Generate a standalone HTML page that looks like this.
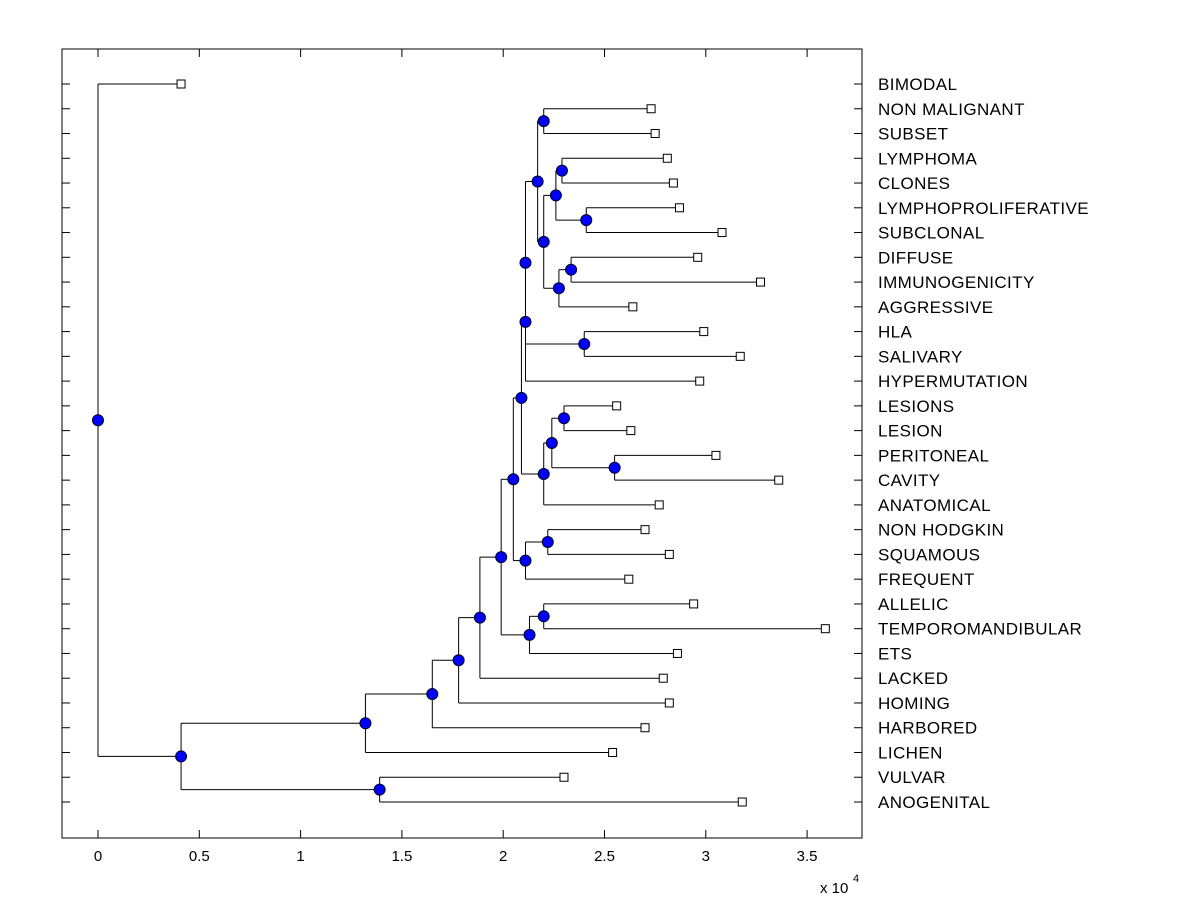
<!DOCTYPE html>
<html><head><meta charset="utf-8"><style>
html,body{margin:0;padding:0;background:#fff;}
svg{display:block;font-family:"Liberation Sans",Arial,sans-serif;}
</style></head><body>
<svg id="chart" width="1200" height="900" viewBox="0 0 1200 900" xmlns="http://www.w3.org/2000/svg">
<rect x="0" y="0" width="1200" height="900" fill="#fff"/>
</svg>
<script>
const leafLabels = ["BIMODAL","NON MALIGNANT","SUBSET","LYMPHOMA","CLONES","LYMPHOPROLIFERATIVE","SUBCLONAL","DIFFUSE","IMMUNOGENICITY","AGGRESSIVE","HLA","SALIVARY","HYPERMUTATION","LESIONS","LESION","PERITONEAL","CAVITY","ANATOMICAL","NON HODGKIN","SQUAMOUS","FREQUENT","ALLELIC","TEMPOROMANDIBULAR","ETS","LACKED","HOMING","HARBORED","LICHEN","VULVAR","ANOGENITAL"];
const leafValues = [0.41,2.73,2.75,2.81,2.84,2.87,3.08,2.96,3.27,2.64,2.99,3.17,2.97,2.56,2.63,3.05,3.36,2.77,2.70,2.82,2.62,2.94,3.59,2.86,2.79,2.82,2.70,2.54,2.30,3.18];
// internal nodes: [name, value, childA, childB] ; children are leaf indices (numbers) or node names
const nodeDefs = [
 ["N22",2.20,1,2],["N26",2.29,3,4],["N27",2.41,5,6],["N24",2.26,"N26","N27"],
 ["N28",2.335,7,8],["N25",2.275,"N28",9],["N23",2.20,"N24","N25"],["N21",2.17,"N22","N23"],
 ["N20",2.40,10,11],["A",2.11,"N21","N20"],["N14",2.11,"A",12],
 ["N17",2.30,13,14],["N18",2.55,15,16],["N16",2.24,"N17","N18"],["N15",2.20,"N16",17],
 ["N11",2.09,"N14","N15"],["N13",2.22,18,19],["N12",2.11,"N13",20],["N8",2.05,"N11","N12"],
 ["N10",2.20,21,22],["N9",2.13,"N10",23],["N7",1.99,"N8","N9"],["N6",1.885,"N7",24],
 ["N5",1.78,"N6",25],["N4",1.65,"N5",26],["N2",1.32,"N4",27],["N3",1.39,28,29],
 ["N1",0.41,"N2","N3"],["ROOT",0,0,"N1"]
];
const xTicks = [0,0.5,1,1.5,2,2.5,3,3.5];
const xTickLabels = ["0","0.5","1","1.5","2","2.5","3","3.5"];

const svg = document.getElementById('chart');
const NS = "http://www.w3.org/2000/svg";
const L=62,R=862,T=49,B=838;
const xs = v => 98 + v*202.6;
const rowY = i => 84 + i*(802-84)/(leafLabels.length-1);
function mk(tag, attrs){const e=document.createElementNS(NS,tag);for(const k in attrs)e.setAttribute(k,attrs[k]);svg.appendChild(e);return e;}

let box = mk('rect',{x:L,y:T,width:R-L,height:B-T,fill:'none',stroke:'#000','stroke-width':1});



xTicks.forEach((t,i)=>{
  const x=xs(t);
  let a=mk('line',{x1:x,y1:B,x2:x,y2:B-8,stroke:'#000'});
  
  
  let b=mk('line',{x1:x,y1:T,x2:x,y2:T+8,stroke:'#000'});
  
  
  let tx=mk('text',{x:x,y:861,'font-size':15,'text-anchor':'middle',fill:'#000'});
  tx.textContent=xTickLabels[i];
  
  
});
let sc=mk('text',{x:820,y:893,'font-size':15,fill:'#000'});
sc.textContent='x 10';


let sp=mk('text',{x:853,y:882,'font-size':11,fill:'#000'});
sp.textContent='4';



leafLabels.forEach((lab,i)=>{
  const y=rowY(i);
  let a=mk('line',{x1:L,y1:y,x2:L+8,y2:y,stroke:'#000'});
  
  
  let b=mk('line',{x1:R,y1:y,x2:R-8,y2:y,stroke:'#000'});
  
  
  let t=mk('text',{x:878,y:y+6,'font-size':17,'letter-spacing':0.4,fill:'#000'});
  t.textContent=lab;
  
  
});

const pos={};
leafValues.forEach((v,i)=>{pos[i]={x:xs(v),y:rowY(i)};});
const nodes=[];
nodeDefs.forEach(([n,v,a,b])=>{
  const y=(pos[a].y+pos[b].y)/2;
  pos[n]={x:xs(v),y:y};
  nodes.push(n);
  const p=pos[n];
  let vl=mk('line',{x1:p.x,y1:pos[a].y,x2:p.x,y2:pos[b].y,stroke:'#000'});
  
  
  [a,b].forEach(c=>{
    let hl=mk('line',{x1:p.x,y1:pos[c].y,x2:pos[c].x,y2:pos[c].y,stroke:'#000'});
    
    
  });
});
leafValues.forEach((v,i)=>{
  let r=mk('rect',{x:pos[i].x-4,y:pos[i].y-4,width:8,height:8,fill:'#fff',stroke:'#000'});
  
  
});
nodes.forEach(n=>{
  let c=mk('circle',{cx:pos[n].x,cy:pos[n].y,r:5.5,fill:'#0000ff',stroke:'#000022','stroke-width':1});
  
  
});
</script>
</body></html>
